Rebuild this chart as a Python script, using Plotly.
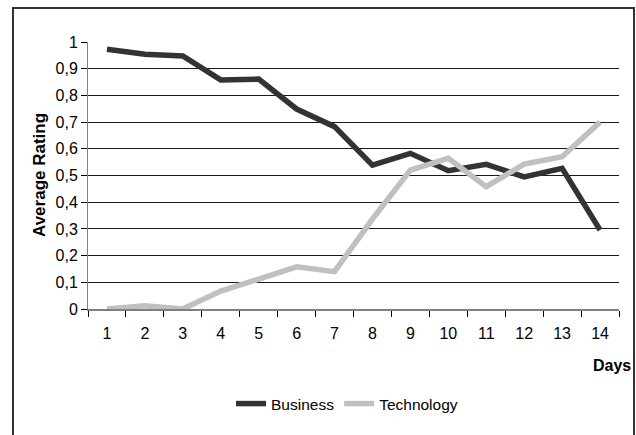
import plotly.graph_objects as go

# Average rating per day for each topic
days = [str(d) for d in range(1, 15)]
business = [0.973, 0.954, 0.948, 0.858, 0.861, 0.749, 0.683, 0.539, 0.583, 0.518, 0.542, 0.495, 0.527, 0.296]
technology = [0.0, 0.012, 0.0, 0.067, 0.112, 0.158, 0.140, 0.337, 0.520, 0.564, 0.458, 0.543, 0.570, 0.700]
y_ticks = [0, 0.1, 0.2, 0.3, 0.4, 0.5, 0.6, 0.7, 0.8, 0.9, 1]

W, H = 636, 435
L, R, T, B = 88, 17, 42, 126
pw, ph = W - L - R, H - T - B


def px_x(x):
    return (x - L) / pw


def px_y(y):
    return (H - B - y) / ph


FONT = "Liberation Sans, Arial, sans-serif"
FS = 16

fig = go.Figure()
fig.add_trace(go.Scatter(x=days, y=business, mode="lines", name="Business",
                         line=dict(color="#333333", width=5.5)))
fig.add_trace(go.Scatter(x=days, y=technology, mode="lines", name="Technology",
                         line=dict(color="#c0c0c0", width=5.5)))

fig.update_layout(
    width=W, height=H,
    margin=dict(l=L, r=R, t=T, b=B),
    paper_bgcolor="white", plot_bgcolor="white",
    separators=", ",
    font=dict(family=FONT, size=FS, color="#000000"),
    showlegend=True,
    legend=dict(orientation="h", x=px_x(347), xanchor="center",
                y=px_y(404), yanchor="middle",
                font=dict(family=FONT, size=15.5, color="#000000"),
                bgcolor="rgba(0,0,0,0)", itemwidth=30),
    xaxis=dict(type="category", range=[-0.5, 13.5], tickson="boundaries",
               ticks="outside", ticklen=6, tickcolor="#000000", tickwidth=1,
               showline=True, linecolor="#808080", linewidth=2,
               showgrid=False, zeroline=False, ticklabelstandoff=9,
               tickfont=dict(family=FONT, size=FS)),
    yaxis=dict(range=[0, 1], tickvals=y_ticks, ticks="outside", ticklen=6,
               tickcolor="#000000", tickwidth=1,
               showline=True, linecolor="#808080", linewidth=1,
               showgrid=True, gridcolor="#1a1a1a", gridwidth=1,
               zeroline=False, tickfont=dict(family=FONT, size=FS)),
)

# Axis titles
fig.add_annotation(text="<b>Average Rating</b>", xref="paper", yref="paper",
                   x=px_x(39), y=px_y(175), xanchor="center", yanchor="middle",
                   textangle=-90, showarrow=False,
                   font=dict(family=FONT, size=17, color="#000000"))
fig.add_annotation(text="<b>Days</b>", xref="paper", yref="paper",
                   x=px_x(612), y=px_y(365), xanchor="center", yanchor="middle",
                   showarrow=False,
                   font=dict(family=FONT, size=16, color="#000000"))

# Chart frame
fig.add_shape(type="rect", xref="paper", yref="paper",
              x0=px_x(13), x1=px_x(634), y0=px_y(440), y1=px_y(8),
              line=dict(color="#333333", width=2), layer="below")

fig.write_html("out.html")
